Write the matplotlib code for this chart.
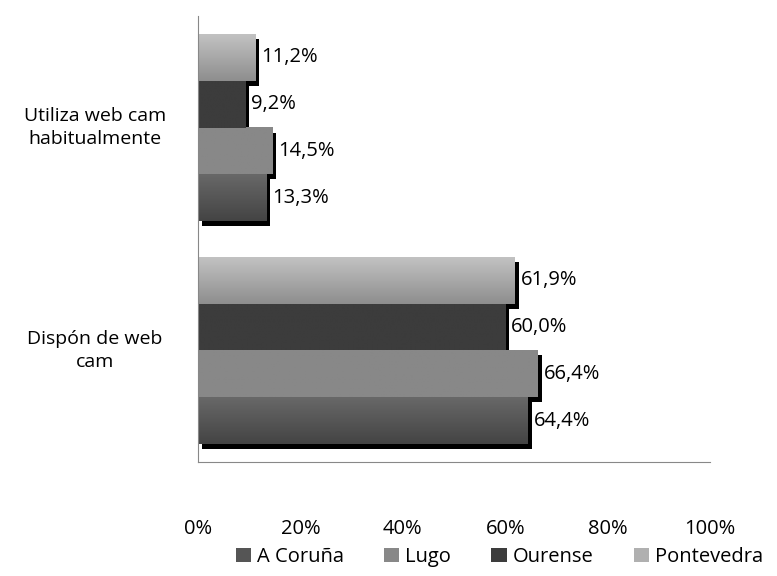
import numpy as np
import matplotlib
matplotlib.use("Agg")
import matplotlib.pyplot as plt
from matplotlib.colors import LinearSegmentedColormap
from matplotlib.patches import Patch
from matplotlib.transforms import ScaledTranslation

plt.rcParams['font.family'] = ['Open Sans', 'DejaVu Sans']

categories = ["Dispón de web\ncam", "Utiliza web cam\nhabitualmente"]
series = ["A Coruña", "Lugo", "Ourense", "Pontevedra"]
a_coruna = [64.4, 13.3]
lugo = [66.4, 14.5]
ourense = [60.0, 9.2]
pontevedra = [61.9, 11.2]
values = [a_coruna, lugo, ourense, pontevedra]

# top colour, bottom colour of each series
shades = [("#686868", "#444444"), ("#888888", "#888888"),
          ("#3c3c3c", "#3c3c3c"), ("#c2c2c2", "#8e8e8e")]
legend_colors = ["#555555", "#888888", "#3c3c3c", "#b0b0b0"]

fig = plt.figure(figsize=(7.77, 5.76), dpi=100)
ax = fig.add_axes([0.2548, 0.198, 0.6590, 0.774])

h = 0.21
y = np.arange(len(categories))
shadow = ax.transData + ScaledTranslation(4 / 100, -5 / 100, fig.dpi_scale_trans)

for i, vals in enumerate(values):
    pos = y + (i - 1.5) * h
    ax.barh(pos, vals, height=h, color="black", transform=shadow, zorder=1)
    cmap = LinearSegmentedColormap.from_list("g%d" % i, [shades[i][1], shades[i][0]])
    for p, v in zip(pos, vals):
        grad = np.linspace(0, 1, 64).reshape(-1, 1)
        ax.imshow(grad, extent=[0, v, p - h / 2, p + h / 2], origin="lower",
                  cmap=cmap, aspect="auto", zorder=2, interpolation="bilinear")
        ax.text(v + 1.2, p, ("%.1f%%" % v).replace(".", ","), va="center",
                ha="left", fontsize=14.5, color="black", zorder=3)

ax.set_xlim(0, 100)
ax.set_ylim(-0.5, 1.5)
ax.set_xticks([0, 20, 40, 60, 80, 100])
ax.set_xticklabels(["0%", "20%", "40%", "60%", "80%", "100%"], fontsize=14.5)
ax.tick_params(axis="x", length=0, pad=41)
ax.set_yticks([])

for yi, lab in zip(y, categories):
    ax.text(-0.201, yi, lab, transform=ax.get_yaxis_transform(), ha="center",
            va="center", fontsize=14, linespacing=1.4)

for s in ["top", "right"]:
    ax.spines[s].set_visible(False)
for s in ["left", "bottom"]:
    ax.spines[s].set_color("#888888")

handles = [Patch(facecolor=c, edgecolor="none") for c in legend_colors]
fig.legend(handles, series, loc="center right", bbox_to_anchor=(1.0, 0.033), ncol=4,
           frameon=False, fontsize=14.5, handlelength=0.75, handleheight=0.75,
           handletextpad=0.3, columnspacing=2.0, borderaxespad=0.3)

fig.savefig("out.png", dpi=100)
